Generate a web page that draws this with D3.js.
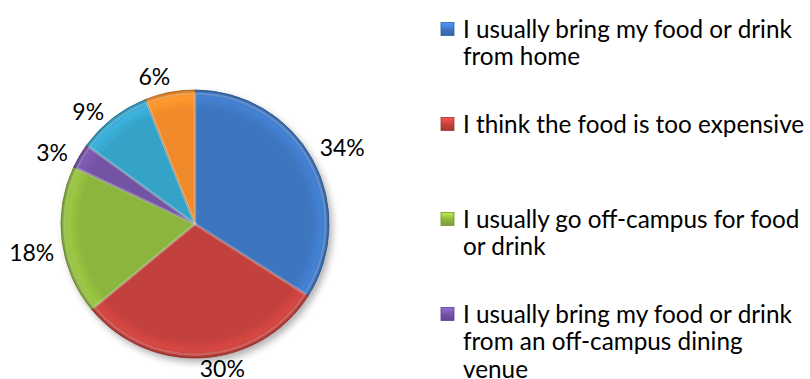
<!DOCTYPE html>
<html>
<head>
<meta charset="utf-8">
<script src="https://cdn.jsdelivr.net/npm/d3@7"></script>
<style>
  html, body { margin: 0; padding: 0; background: #ffffff; overflow: hidden; }
  svg { display: block; }
</style>
</head>
<body>
<div id="chart"></div>
<script>
// Reasons given for not buying food or drink on campus (share of responses, %)
const values = [34, 30, 18, 3, 9, 6];
const sliceColors = ["#3d75bf", "#c2403c", "#8cb53c", "#7352a3", "#35a2c8", "#f08a2a"];
const legendLabels = [
  "I usually bring my food or drink\nfrom home",
  "I think the food is too expensive",
  "I usually go off-campus for food\nor drink",
  "I usually bring my food or drink\nfrom an off-campus dining\nvenue"
];

const W = 810, H = 379;
const cx = 195, cy = 224, R = 134;
const fontFamily = "Lato, 'Open Sans', sans-serif";
const labelSize = 23;
const legendSize = 24.3;

const svg = d3.select("#chart").append("svg")
  .attr("width", W).attr("height", H);

const defs = svg.append("defs");

// soft shadow under the pie
const shadow = defs.append("filter").attr("id", "pieShadow")
  .attr("x", "-20%").attr("y", "-20%").attr("width", "140%").attr("height", "140%");
shadow.append("feDropShadow")
  .attr("dx", 3).attr("dy", 4).attr("stdDeviation", 3.5)
  .attr("flood-color", "#000").attr("flood-opacity", 0.3);

// bevelled fill per slice: flat body, bright rim, dark outer edge
// (gradient lives in the pie group's coordinates, centred on its origin)
sliceColors.forEach((c, i) => {
  const base = d3.color(c);
  const g = defs.append("radialGradient").attr("id", "slice" + i)
    .attr("gradientUnits", "userSpaceOnUse")
    .attr("cx", 0).attr("cy", 0).attr("r", R);
  g.append("stop").attr("offset", "0%").attr("stop-color", base);
  g.append("stop").attr("offset", "86%").attr("stop-color", base);
  g.append("stop").attr("offset", "95%").attr("stop-color", base.brighter(0.3));
  g.append("stop").attr("offset", "100%").attr("stop-color", base.darker(0.4));

  const m = defs.append("linearGradient").attr("id", "mark" + i)
    .attr("x1", 0).attr("y1", 0).attr("x2", 0).attr("y2", 1);
  m.append("stop").attr("offset", "0%").attr("stop-color", base.brighter(0.8));
  m.append("stop").attr("offset", "55%").attr("stop-color", base);
  m.append("stop").attr("offset", "100%").attr("stop-color", base.darker(0.4));
});

const pie = d3.pie().sort(null).value(d => d);
const arcs = pie(values);
const arc = d3.arc().innerRadius(0).outerRadius(R);

const pieG = svg.append("g")
  .attr("transform", `translate(${cx},${cy})`)
  .attr("filter", "url(#pieShadow)");

pieG.selectAll("path.slice")
  .data(arcs)
  .join("path")
  .attr("class", "slice")
  .attr("d", arc)
  .attr("fill", (d, i) => `url(#slice${i})`)
  .attr("stroke", (d, i) => d3.color(sliceColors[i]).darker(1.1))
  .attr("stroke-width", 0.8)
  .attr("stroke-linejoin", "round");

// soft highlight along each slice's edges
pieG.selectAll("path.bevel")
  .data(arcs)
  .join("path")
  .attr("class", "bevel")
  .attr("d", d3.arc().innerRadius(0).outerRadius(R - 1.5))
  .attr("fill", "none")
  .attr("stroke", "rgba(255,255,255,0.18)")
  .attr("stroke-width", 2.5)
  .attr("transform", "scale(0.985)");

// data labels: outside end, box pushed away along the mid-angle,
// with best-fit shifts where the labels crowd together
const labelArc = d3.arc().innerRadius(R + 8).outerRadius(R + 8);
const labelNudge = [[3, -4], [17, -6], [0, 10], [-7, 6], [-10, 7], [-11, 1]];
const labels = svg.append("g")
  .attr("transform", `translate(${cx},${cy})`)
  .attr("font-family", fontFamily)
  .attr("font-size", labelSize)
  .attr("fill", "#000");

labels.selectAll("text")
  .data(arcs)
  .join("text")
  .attr("text-anchor", "middle")
  .attr("dy", "0.36em")
  .text(d => d.data + "%")
  .each(function (d, i) {
    const [ax, ay] = labelArc.centroid(d);
    const a = (d.startAngle + d.endAngle) / 2;
    const bb = this.getBBox();
    const n = labelNudge[i];
    const x = ax + Math.sin(a) * bb.width / 2 + n[0];
    const y = ay - Math.cos(a) * 9 + n[1];
    d3.select(this).attr("x", x).attr("y", y);
  });

// legend
const legendTop = 29, legendStep = 95, lineH = 27.5;
const markX = 441, markSize = 13, textX = 463;
const legend = svg.append("g")
  .attr("font-family", fontFamily)
  .attr("font-size", legendSize)
  .attr("fill", "#000");

const entries = legend.selectAll("g.entry")
  .data(legendLabels)
  .join("g")
  .attr("class", "entry")
  .attr("transform", (d, i) => `translate(0,${legendTop + i * legendStep})`);

entries.append("rect")
  .attr("x", markX).attr("y", -markSize / 2)
  .attr("width", markSize).attr("height", markSize)
  .attr("fill", (d, i) => `url(#mark${i})`)
  .attr("stroke", (d, i) => d3.color(sliceColors[i]).darker(0.6))
  .attr("stroke-width", 0.8);

entries.append("text")
  .attr("x", textX)
  .selectAll("tspan")
  .data(d => d.split("\n"))
  .join("tspan")
  .attr("x", textX)
  .attr("y", (d, j) => j * lineH)
  .attr("dy", "0.36em")
  .text(d => d);
</script>
</body>
</html>
